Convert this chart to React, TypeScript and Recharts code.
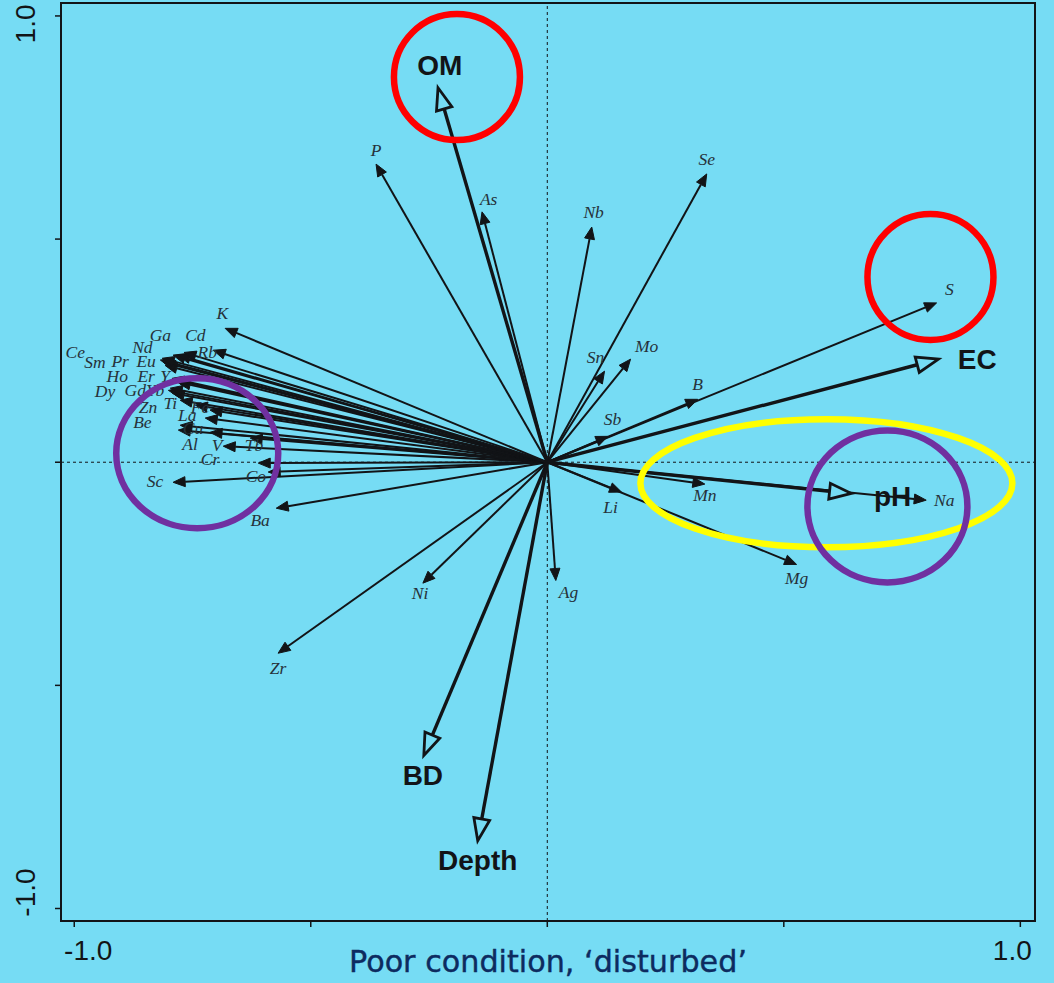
import React from 'react';
import {
  ScatterChart,
  Scatter,
  XAxis,
  YAxis,
  ReferenceLine,
  ReferenceDot,
  ReferenceArea,
  Label,
} from 'recharts';

const BG = '#76dcf4';
const INK = '#121417';

// environmental vectors (hollow heads)
const envVectors = [
  { name: 'OM', x: -0.231, y: 0.839 },
  { name: 'EC', x: 0.827, y: 0.231 },
  { name: 'pH', x: 0.643, y: -0.07 },
  { name: 'BD', x: -0.261, y: -0.657 },
  { name: 'Depth', x: -0.147, y: -0.848 },
];
const envLabels = [
  { name: 'OM', x: -0.227, y: 0.89 },
  { name: 'EC', x: 0.909, y: 0.231 },
  { name: 'pH', x: 0.73, y: -0.076 },
  { name: 'BD', x: -0.263, y: -0.702 },
  { name: 'Depth', x: -0.147, y: -0.892 },
];

// element vectors (arrow tips)
const elementVectors = [
  { name: 'P', x: -0.362, y: 0.668 },
  { name: 'As', x: -0.138, y: 0.561 },
  { name: 'Nb', x: 0.094, y: 0.527 },
  { name: 'Se', x: 0.337, y: 0.646 },
  { name: 'S', x: 0.823, y: 0.357 },
  { name: 'Sn', x: 0.121, y: 0.204 },
  { name: 'Mo', x: 0.176, y: 0.231 },
  { name: 'B', x: 0.318, y: 0.141 },
  { name: 'Sb', x: 0.128, y: 0.058 },
  { name: 'Li', x: 0.157, y: -0.067 },
  { name: 'Mn', x: 0.333, y: -0.049 },
  { name: 'Na', x: 0.801, y: -0.085 },
  { name: 'Mg', x: 0.527, y: -0.229 },
  { name: 'Ag', x: 0.018, y: -0.265 },
  { name: 'Ni', x: -0.263, y: -0.271 },
  { name: 'Zr', x: -0.569, y: -0.428 },
  { name: 'Ba', x: -0.573, y: -0.103 },
  { name: 'Sc', x: -0.791, y: -0.045 },
  { name: 'Cr', x: -0.611, y: -0.002 },
  { name: 'Co', x: -0.59, y: -0.022 },
  { name: 'V', x: -0.685, y: 0.036 },
  { name: 'Tb', x: -0.628, y: 0.054 },
  { name: 'Al', x: -0.713, y: 0.067 },
  { name: 'Cu', x: -0.78, y: 0.072 },
  { name: 'Be', x: -0.776, y: 0.083 },
  { name: 'La', x: -0.723, y: 0.099 },
  { name: 'Fe', x: -0.713, y: 0.117 },
  { name: 'Ti', x: -0.744, y: 0.128 },
  { name: 'Zn', x: -0.776, y: 0.139 },
  { name: 'Yb', x: -0.801, y: 0.161 },
  { name: 'Gd', x: -0.793, y: 0.155 },
  { name: 'Dy', x: -0.797, y: 0.166 },
  { name: 'Y', x: -0.78, y: 0.179 },
  { name: 'Er', x: -0.787, y: 0.184 },
  { name: 'Ho', x: -0.793, y: 0.188 },
  { name: 'Eu', x: -0.808, y: 0.217 },
  { name: 'Pr', x: -0.812, y: 0.224 },
  { name: 'Sm', x: -0.818, y: 0.229 },
  { name: 'Ce', x: -0.814, y: 0.233 },
  { name: 'Nd', x: -0.791, y: 0.24 },
  { name: 'Ga', x: -0.78, y: 0.24 },
  { name: 'Cd', x: -0.768, y: 0.246 },
  { name: 'Rb', x: -0.706, y: 0.251 },
  { name: 'K', x: -0.681, y: 0.3 },
];

// element label positions
const elementLabels = [
  { name: 'P', x: -0.362, y: 0.7 },
  { name: 'As', x: -0.124, y: 0.59 },
  { name: 'Nb', x: 0.098, y: 0.561 },
  { name: 'Se', x: 0.337, y: 0.679 },
  { name: 'S', x: 0.85, y: 0.388 },
  { name: 'Sn', x: 0.102, y: 0.235 },
  { name: 'Mo', x: 0.21, y: 0.26 },
  { name: 'B', x: 0.318, y: 0.175 },
  { name: 'Sb', x: 0.138, y: 0.096 },
  { name: 'Li', x: 0.134, y: -0.101 },
  { name: 'Mn', x: 0.333, y: -0.074 },
  { name: 'Na', x: 0.839, y: -0.085 },
  { name: 'Mg', x: 0.527, y: -0.26 },
  { name: 'Ag', x: 0.045, y: -0.291 },
  { name: 'Ni', x: -0.269, y: -0.294 },
  { name: 'Zr', x: -0.569, y: -0.46 },
  { name: 'Ba', x: -0.607, y: -0.13 },
  { name: 'Sc', x: -0.829, y: -0.043 },
  { name: 'Cr', x: -0.713, y: 0.007 },
  { name: 'Co', x: -0.616, y: -0.031 },
  { name: 'V', x: -0.698, y: 0.038 },
  { name: 'Tb', x: -0.62, y: 0.038 },
  { name: 'Al', x: -0.755, y: 0.04 },
  { name: 'Cu', x: -0.749, y: 0.076 },
  { name: 'Be', x: -0.856, y: 0.09 },
  { name: 'La', x: -0.761, y: 0.105 },
  { name: 'Fe', x: -0.734, y: 0.123 },
  { name: 'Ti', x: -0.797, y: 0.132 },
  { name: 'Zn', x: -0.844, y: 0.123 },
  { name: 'Yb', x: -0.829, y: 0.161 },
  { name: 'Gd', x: -0.871, y: 0.161 },
  { name: 'Dy', x: -0.935, y: 0.159 },
  { name: 'Y', x: -0.808, y: 0.193 },
  { name: 'Er', x: -0.848, y: 0.193 },
  { name: 'Ho', x: -0.909, y: 0.193 },
  { name: 'Eu', x: -0.848, y: 0.226 },
  { name: 'Pr', x: -0.903, y: 0.226 },
  { name: 'Sm', x: -0.956, y: 0.224 },
  { name: 'Ce', x: -0.998, y: 0.247 },
  { name: 'Nd', x: -0.856, y: 0.258 },
  { name: 'Ga', x: -0.818, y: 0.285 },
  { name: 'Cd', x: -0.744, y: 0.285 },
  { name: 'Rb', x: -0.719, y: 0.247 },
  { name: 'K', x: -0.687, y: 0.334 },
];

const axisTicks = [-1, -0.5, 0, 0.5, 1];
const labelledTicks = [-1, 1];

// hand-drawn highlight rings
const highlights = [
  { x: 0.59, y: -0.047, rx: 186, ry: 64, color: '#ffff00' },
  { x: -0.191, y: 0.863, rx: 63, ry: 63, color: '#ff0000' },
  { x: 0.81, y: 0.415, rx: 63, ry: 63, color: '#ff0000' },
  { x: -0.74, y: 0.02, rx: 81, ry: 75, color: '#7030a0' },
  { x: 0.719, y: -0.099, rx: 80, ry: 76, color: '#7030a0' },
];

const arrowShape = (env: boolean) => (props: any) => {
  const { x1, y1, x2, y2 } = props;
  const dx = x2 - x1;
  const dy = y2 - y1;
  const len = Math.hypot(dx, dy) || 1;
  const ux = dx / len;
  const uy = dy / len;
  const hl = env ? 22 : 12;
  const hw = env ? 8 : 5;
  const bx = x2 - ux * hl;
  const by = y2 - uy * hl;
  const pts = `${x2},${y2} ${bx - uy * hw},${by + ux * hw} ${bx + uy * hw},${by - ux * hw}`;
  return (
    <g>
      <line x1={x1} y1={y1} x2={bx} y2={by} stroke={INK} strokeWidth={env ? 3.4 : 2} />
      <polygon
        points={pts}
        fill={env ? BG : INK}
        stroke={INK}
        strokeWidth={env ? 2.8 : 1}
      />
    </g>
  );
};

const envText = (props: any) => (
  <text
    x={props.cx}
    y={props.cy}
    textAnchor="middle"
    dominantBaseline="central"
    fontFamily="Liberation Sans, Arial, sans-serif"
    fontWeight="bold"
    fontSize={28}
    fill={INK}
  >
    {props.payload.name}
  </text>
);

const elementText = (props: any) => (
  <text
    x={props.cx}
    y={props.cy}
    textAnchor="middle"
    dominantBaseline="central"
    fontFamily="Liberation Serif, Times New Roman, serif"
    fontStyle="italic"
    fontSize={17.5}
    fill="#26323a"
  >
    {props.payload.name}
  </text>
);

const XTick = (props: any) => {
  const { x, y, payload } = props;
  if (!labelledTicks.includes(payload.value)) return null;
  const shift = payload.value < 0 ? 14 : -8;
  return (
    <text
      x={x + shift}
      y={y + 31}
      textAnchor="middle"
      fontFamily="Liberation Sans, Arial, sans-serif"
      fontSize={28}
      fill={INK}
    >
      {payload.value.toFixed(1)}
    </text>
  );
};

const YTick = (props: any) => {
  const { x, y, payload } = props;
  if (!labelledTicks.includes(payload.value)) return null;
  const cy = y + (payload.value > 0 ? 8 : -16);
  const cx = x - 27;
  return (
    <text
      x={cx}
      y={cy}
      transform={`rotate(-90 ${cx} ${cy})`}
      textAnchor="middle"
      dominantBaseline="central"
      fontFamily="Liberation Sans, Arial, sans-serif"
      fontSize={28}
      fill={INK}
    >
      {payload.value.toFixed(1)}
    </text>
  );
};

const AxisTitle = (props: any) => {
  const { viewBox } = props;
  const cx = viewBox.x + viewBox.width / 2;
  return (
    <text
      x={cx}
      y={viewBox.y + 51}
      textAnchor="middle"
      fontFamily="DejaVu Sans, Verdana, sans-serif"
      fontSize={31}
      fill="#0d2b60"
      stroke="#0d2b60"
      strokeWidth={0.4}
      textLength={398}
      lengthAdjust="spacingAndGlyphs"
    >
      Poor condition, ‘disturbed’
    </text>
  );
};

export default function App() {
  return (
    <div
      style={{
        position: 'absolute',
        left: 0,
        top: 0,
        width: 1054,
        height: 983,
        background: BG,
      }}
    >
      <ScatterChart
        width={1054}
        height={983}
        margin={{ top: 3, right: 19, bottom: 0, left: 0 }}
      >
        <XAxis
          type="number"
          dataKey="x"
          domain={[-1.028, 1.031]}
          allowDataOverflow
          ticks={axisTicks}
          tick={<XTick />}
          tickSize={6}
          height={62}
          stroke={INK}
          axisLine={{ stroke: INK, strokeWidth: 2 }}
          tickLine={{ stroke: INK, strokeWidth: 1.5 }}
        >
          <Label content={<AxisTitle />} />
        </XAxis>
        <YAxis
          type="number"
          dataKey="y"
          domain={[-1.028, 1.029]}
          allowDataOverflow
          ticks={axisTicks}
          tick={<YTick />}
          tickSize={6}
          width={61}
          stroke={INK}
          axisLine={{ stroke: INK, strokeWidth: 2 }}
          tickLine={{ stroke: INK, strokeWidth: 1.5 }}
        />
        <ReferenceArea
          x1={-1.028}
          x2={1.031}
          y1={-1.028}
          y2={1.029}
          fill="none"
          stroke={INK}
          strokeWidth={2}
          ifOverflow="visible"
        />
        <ReferenceLine x={0} stroke={INK} strokeWidth={1} strokeDasharray="3 3" />
        <ReferenceLine y={0} stroke={INK} strokeWidth={1} strokeDasharray="3 3" />
        {elementVectors.map((v) => (
          <ReferenceLine
            key={'el-' + v.name}
            segment={[{ x: 0, y: 0 }, { x: v.x, y: v.y }]}
            ifOverflow="visible"
            shape={arrowShape(false)}
          />
        ))}
        {envVectors.map((v) => (
          <ReferenceLine
            key={'env-' + v.name}
            segment={[{ x: 0, y: 0 }, { x: v.x, y: v.y }]}
            ifOverflow="visible"
            shape={arrowShape(true)}
          />
        ))}
        <Scatter data={elementLabels} shape={elementText} isAnimationActive={false} />
        <Scatter data={envLabels} shape={envText} isAnimationActive={false} />
        {highlights.map((h, i) => (
          <ReferenceDot
            key={'hl-' + i}
            x={h.x}
            y={h.y}
            ifOverflow="visible"
            shape={(p: any) => (
              <ellipse
                cx={p.cx}
                cy={p.cy}
                rx={h.rx}
                ry={h.ry}
                fill="none"
                stroke={h.color}
                strokeWidth={6.5}
              />
            )}
          />
        ))}
      </ScatterChart>
    </div>
  );
}
